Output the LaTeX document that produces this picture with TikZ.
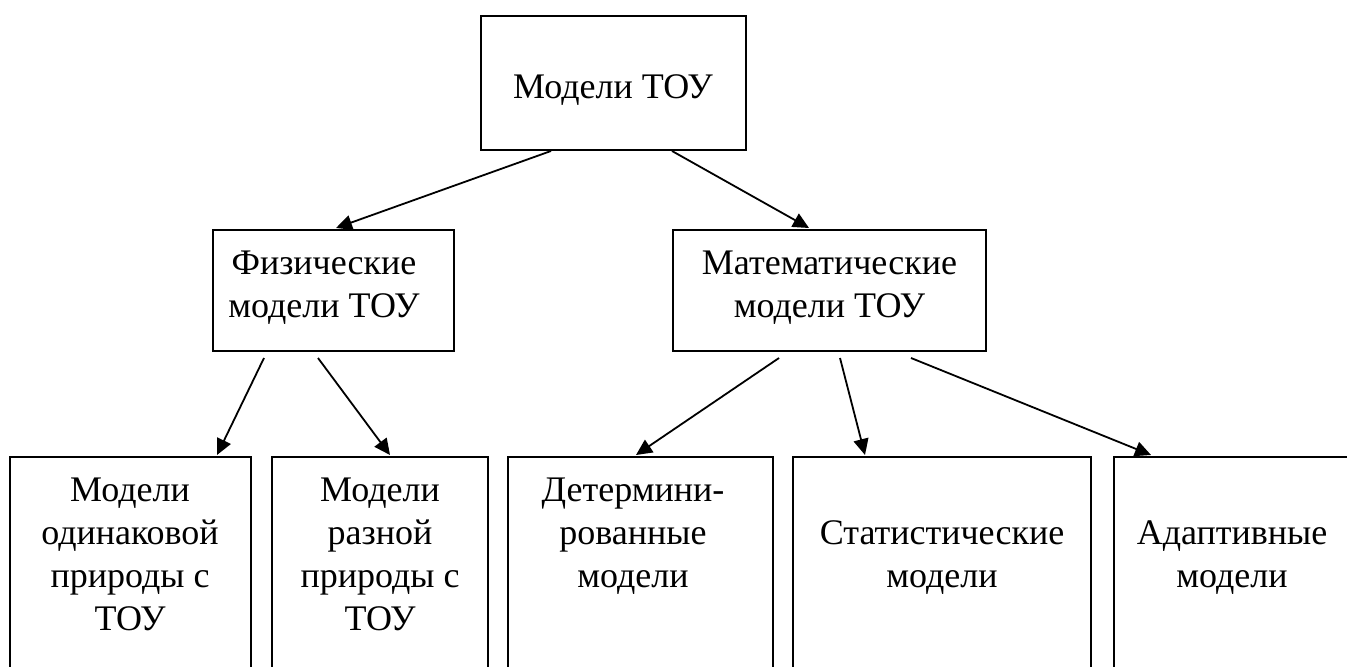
\documentclass[tikz,border=0pt]{standalone}
\usepackage{fontspec}
\setmainfont{Liberation Serif}
\usetikzlibrary{arrows.meta,calc,fit}
\begin{document}
\begin{tikzpicture}[x=0.5pt,y=-0.5pt,
  box/.style={draw,line width=1pt,inner sep=0pt},
  lbl/.style={font=\fontsize{18}{21.5}\selectfont,align=center,inner sep=0pt,anchor=base},
  arr/.style={line width=0.9pt,-{Triangle[length=8pt,width=7.5pt]}}]
\useasboundingbox (0,0) rectangle (1347,667);
\clip (0,0) rectangle (1347,667);
% boxes
\node[box,fit={(481,16) (746,150)}] (top) {};
\node[box,fit={(213,230) (454,351)}] (fiz) {};
\node[box,fit={(673,230) (986,351)}] (mat) {};
\node[box,fit={(10,457) (251,690)}] (b1) {};
\node[box,fit={(272,457) (488,690)}] (b2) {};
\node[box,fit={(508,457) (773,690)}] (b3) {};
\node[box,fit={(793,457) (1091,690)}] (b4) {};
\node[box,fit={(1114,457) (1351,690)}] (b5) {};
% texts (anchor = baseline of the last line)
\node[lbl] (ttop) at (613,99) {Модели ТОУ};
\node[lbl] (tfiz) at (324,318) {Физические\\модели ТОУ};
\node[lbl] (tmat) at (829.5,318) {Математические\\модели ТОУ};
\node[lbl] (tb1) at (130,630) {Модели\\одинаковой\\природы с\\ТОУ};
\node[lbl] (tb2) at (380,630) {Модели\\разной\\природы с\\ТОУ};
\node[lbl] (tb3) at (633,587) {Детермини-\\рованные\\модели};
\node[lbl] (tb4) at (942,587) {Статистические\\модели};
\node[lbl] (tb5) at (1232,587) {Адаптивные\\модели};
% arrows
\draw[arr] ($(top.south west)+(71,0)$) -- ($(fiz.north west)+(124,-1)$);
\draw[arr] ($(top.south west)+(192,0)$) -- ($(mat.north west)+(137,-1)$);
\draw[arr] ($(fiz.south west)+(52,6)$) -- ($(b1.north west)+(208,-1)$);
\draw[arr] ($(fiz.south west)+(106,6)$) -- ($(b2.north west)+(119,-1)$);
\draw[arr] ($(mat.south west)+(107,6)$) -- ($(b3.north west)+(129,-1)$);
\draw[arr] ($(mat.south west)+(168,6)$) -- ($(b4.north west)+(73,-1)$);
\draw[arr] ($(mat.south west)+(239,6)$) -- ($(b5.north west)+(38,-1)$);
\end{tikzpicture}
\end{document}
